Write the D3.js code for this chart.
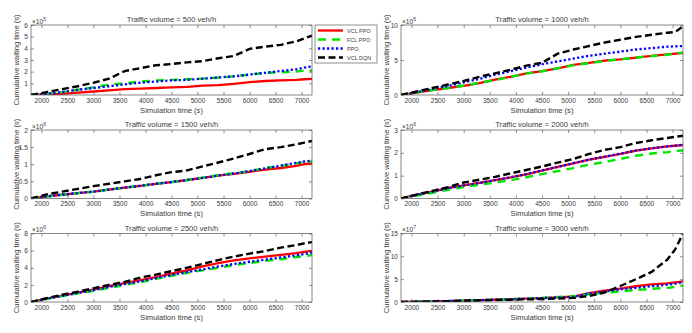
<!DOCTYPE html>
<html><head><meta charset="utf-8">
<script src="https://cdn.jsdelivr.net/npm/d3@7"></script>
<style>body{margin:0;background:#fff}svg{display:block;font-family:"Liberation Sans",Arial,sans-serif}</style>
</head><body><svg id="c" width="692" height="333"></svg>
<script>
// ---------------- data ----------------
const times = [1800,2100,2400,2700,3000,3300,3600,3900,4200,4500,4800,5100,5400,5700,6000,6300,6600,6900,7050,7200];
const titles = ["Traffic volume = 500 veh/h","Traffic volume = 1000 veh/h","Traffic volume = 1500 veh/h",
                "Traffic volume = 2000 veh/h","Traffic volume = 2500 veh/h","Traffic volume = 3000 veh/h"];
const exponents = [5,5,6,6,6,7];
const yMaxes = [6,10,2,3,8,15];
const yTicks = [[1,2,3,4,5,6],[0,5,10],[0,0.5,1,1.5,2],[0,1,2,3],[0,2,4,6,8],[0,5,10,15]];
const xTicks = [2000,2500,3000,3500,4000,4500,5000,5500,6000,6500,7000];
const seriesNames = ["VCL PPO","FCL PPO","PPO","VCL DQN"];
const xLabel = "Simulation time (s)";
const yLabel = "Cumulative waiting time (s)";

// values in units of 10^exponent
const vclPPO500 = [0,0.05,0.1,0.2,0.3,0.4,0.5,0.55,0.6,0.65,0.7,0.8,0.85,0.95,1.1,1.2,1.25,1.3,1.35,1.38];
const fclPPO500 = [0,0.1,0.25,0.45,0.65,0.9,1.0,1.15,1.25,1.3,1.35,1.4,1.5,1.6,1.75,1.9,1.95,2.0,2.1,2.1];
const ppo500    = [0,0.1,0.25,0.45,0.6,0.75,0.9,1.05,1.15,1.25,1.3,1.4,1.5,1.6,1.75,1.9,2.05,2.2,2.35,2.45];
const vclDQN500 = [0,0.25,0.5,0.75,1.05,1.4,2.05,2.3,2.55,2.65,2.8,2.9,3.15,3.35,3.95,4.15,4.3,4.6,4.85,5.1];

const vclPPO1000 = [0,0.35,0.7,1.0,1.3,1.7,2.2,2.6,3.1,3.4,3.8,4.3,4.6,4.9,5.1,5.35,5.6,5.8,5.9,6.0];
const fclPPO1000 = [0,0.35,0.7,1.0,1.35,1.75,2.1,2.6,3.05,3.4,3.8,4.25,4.55,4.85,5.1,5.35,5.55,5.75,5.9,6.05];
const ppo1000    = [0,0.4,0.9,1.3,1.8,2.3,2.9,3.4,3.9,4.4,4.8,5.2,5.6,5.9,6.2,6.5,6.7,6.9,6.95,7.0];
const vclDQN1000 = [0,0.5,1.0,1.5,2.0,2.6,3.1,3.6,4.2,4.6,5.9,6.5,7.0,7.5,7.9,8.3,8.6,8.9,9.0,9.8];

const vclPPO1500 = [0,0.06,0.11,0.16,0.2,0.26,0.32,0.37,0.43,0.48,0.54,0.6,0.67,0.72,0.78,0.84,0.89,0.95,1.0,1.03];
const fclPPO1500 = [0,0.06,0.11,0.16,0.2,0.26,0.32,0.37,0.43,0.48,0.54,0.61,0.68,0.74,0.8,0.89,0.95,1.03,1.06,1.08];
const ppo1500    = [0,0.06,0.11,0.16,0.2,0.26,0.32,0.37,0.43,0.48,0.54,0.6,0.67,0.73,0.8,0.88,0.96,1.04,1.08,1.11];
const vclDQN1500 = [0,0.12,0.2,0.28,0.36,0.43,0.5,0.57,0.68,0.77,0.82,0.94,1.05,1.17,1.3,1.44,1.5,1.58,1.63,1.68];

const vclPPO2000 = [0,0.17,0.3,0.45,0.57,0.68,0.8,0.92,1.06,1.22,1.38,1.54,1.7,1.82,1.95,2.1,2.2,2.28,2.31,2.34];
const fclPPO2000 = [0,0.13,0.25,0.38,0.5,0.6,0.7,0.8,0.93,1.07,1.2,1.33,1.48,1.6,1.73,1.87,1.97,2.03,2.08,2.1];
const ppo2000    = [0,0.16,0.3,0.45,0.57,0.68,0.8,0.93,1.07,1.23,1.38,1.55,1.7,1.83,1.96,2.1,2.2,2.28,2.32,2.35];
const vclDQN2000 = [0,0.17,0.33,0.5,0.7,0.82,0.95,1.1,1.25,1.4,1.57,1.73,1.95,2.13,2.25,2.43,2.55,2.65,2.7,2.75];

const vclPPO2500 = [0,0.4,0.75,1.1,1.45,1.85,2.2,2.55,2.9,3.3,3.7,4.15,4.55,4.85,5.1,5.3,5.5,5.7,5.85,5.98];
const fclPPO2500 = [0,0.35,0.68,1.0,1.3,1.65,2.0,2.3,2.7,3.05,3.4,3.7,4.0,4.3,4.55,4.8,5.0,5.25,5.35,5.47];
const ppo2500    = [0,0.38,0.72,1.05,1.38,1.75,2.1,2.4,2.8,3.15,3.5,3.8,4.15,4.45,4.7,4.95,5.2,5.45,5.6,5.78];
const vclDQN2500 = [0,0.45,0.85,1.2,1.6,2.0,2.35,2.85,3.2,3.6,4.0,4.45,4.9,5.3,5.65,5.95,6.35,6.65,6.85,7.0];

const vclPPO3000 = [0,0.05,0.12,0.2,0.3,0.4,0.5,0.6,0.72,0.85,1.0,1.2,1.95,2.5,2.95,3.45,3.85,4.1,4.3,4.5];
const fclPPO3000 = [0,0.05,0.12,0.2,0.3,0.4,0.52,0.62,0.75,0.9,1.1,1.25,1.7,2.0,2.35,2.6,2.9,3.1,3.3,3.6];
const ppo3000    = [0,0.05,0.12,0.2,0.3,0.4,0.5,0.6,0.72,0.85,1.0,1.1,1.85,2.3,2.8,3.1,3.45,3.8,4.0,4.35];
const vclDQN3000 = [0,0.05,0.12,0.2,0.28,0.35,0.42,0.5,0.58,0.65,0.75,0.9,1.3,2.1,3.5,5.0,6.6,9.3,11.5,15.0];

const panelSeries = [
  [vclPPO500, fclPPO500, ppo500, vclDQN500],
  [vclPPO1000, fclPPO1000, ppo1000, vclDQN1000],
  [vclPPO1500, fclPPO1500, ppo1500, vclDQN1500],
  [vclPPO2000, fclPPO2000, ppo2000, vclDQN2000],
  [vclPPO2500, fclPPO2500, ppo2500, vclDQN2500],
  [vclPPO3000, fclPPO3000, ppo3000, vclDQN3000]
];

// ---------------- layout / style ----------------
const styles = [
  {color:"#ff0000", dash:null, width:2.3},
  {color:"#00e600", dash:"8,6", width:2.4},
  {color:"#0000ff", dash:"2.2,2.3", width:2.3},
  {color:"#000000", dash:"7,3.5", width:2.4}
];
const cols = [[31,312],[401,683]];
const rows = [[25,95],[130,198.5],[233.5,302]];
const txt = "#3a3a3a";
const svg = d3.select("#c");

panelSeries.forEach((series, i) => {
  const [x0,x1] = cols[i%2], [y0,y1] = rows[Math.floor(i/2)];
  const x = d3.scaleLinear().domain([1800,7200]).range([x0,x1]);
  const y = d3.scaleLinear().domain([0,yMaxes[i]]).range([y1,y0]);
  const g = svg.append("g");
  const cid = "clip"+i;
  g.append("clipPath").attr("id",cid).append("rect")
    .attr("x",x0).attr("y",y0).attr("width",x1-x0).attr("height",y1-y0);

  const line = d3.line().x((d,j)=>x(times[j])).y(d=>y(d));
  series.forEach((vals,k) => {
    const s = styles[k];
    g.append("path").datum(vals).attr("d",line).attr("fill","none")
      .attr("stroke",s.color).attr("stroke-width",s.width)
      .attr("stroke-dasharray",s.dash).attr("clip-path",`url(#${cid})`);
  });

  // axes (ticks inward, on all sides)
  const fmt = d => String(d);
  const ax = g.append("g");
  const bottom = d3.axisBottom(x).tickValues(xTicks).tickSizeInner(-3).tickSizeOuter(0).tickPadding(3).tickFormat(fmt);
  const top = d3.axisTop(x).tickValues(xTicks).tickSizeInner(-3).tickSizeOuter(0).tickFormat("");
  const left = d3.axisLeft(y).tickValues(yTicks[i]).tickSizeInner(-3).tickSizeOuter(0).tickPadding(3).tickFormat(fmt);
  const right = d3.axisRight(y).tickValues(yTicks[i]).tickSizeInner(-3).tickSizeOuter(0).tickFormat("");
  [[bottom,`translate(0,${y1})`],[top,`translate(0,${y0})`],[left,`translate(${x0},0)`],[right,`translate(${x1},0)`]]
    .forEach(([a,t]) => {
      const ag = ax.append("g").attr("transform",t).call(a);
      ag.select(".domain").remove();
      ag.selectAll("line").attr("stroke","#444").attr("stroke-width",0.6);
      ag.selectAll("text").attr("fill",txt).attr("font-size","6.6px").attr("font-family","Liberation Sans, Arial, sans-serif");
    });
  g.append("rect").attr("x",x0).attr("y",y0).attr("width",x1-x0).attr("height",y1-y0)
    .attr("fill","none").attr("stroke","#555").attr("stroke-width",0.7);

  // exponent
  const ex = g.append("text").attr("x",x0+1).attr("y",y0-1.5).attr("fill",txt).attr("font-size","6.6px");
  ex.append("tspan").text("\u00d710");
  ex.append("tspan").attr("dy",-3).attr("font-size","5px").text(exponents[i]);

  // title and labels
  g.append("text").attr("x",(x0+x1)/2).attr("y",y0-3).attr("text-anchor","middle")
    .attr("fill",txt).attr("font-size","7.6px").text(titles[i]);
  g.append("text").attr("x",(x0+x1)/2).attr("y",y1+17.5).attr("text-anchor","middle")
    .attr("fill",txt).attr("font-size","7.6px").text(xLabel);
  g.append("text").attr("transform",`translate(${x0-12},${(y0+y1)/2}) rotate(-90)`).attr("text-anchor","middle")
    .attr("fill",txt).attr("font-size","7.6px").text(yLabel);
});

// legend
const lg = svg.append("g");
lg.append("rect").attr("x",315).attr("y",25).attr("width",62).attr("height",38)
  .attr("fill","#fff").attr("stroke","#444").attr("stroke-width",0.6);
seriesNames.forEach((name,k) => {
  const yy = 30.5 + k*9;
  const s = styles[k];
  lg.append("line").attr("x1",318).attr("x2",343).attr("y1",yy).attr("y2",yy)
    .attr("stroke",s.color).attr("stroke-width",s.width).attr("stroke-dasharray",s.dash);
  lg.append("text").attr("x",347).attr("y",yy+2).attr("font-size","5.5px").attr("fill",txt).text(name);
});
</script>
</body></html>
